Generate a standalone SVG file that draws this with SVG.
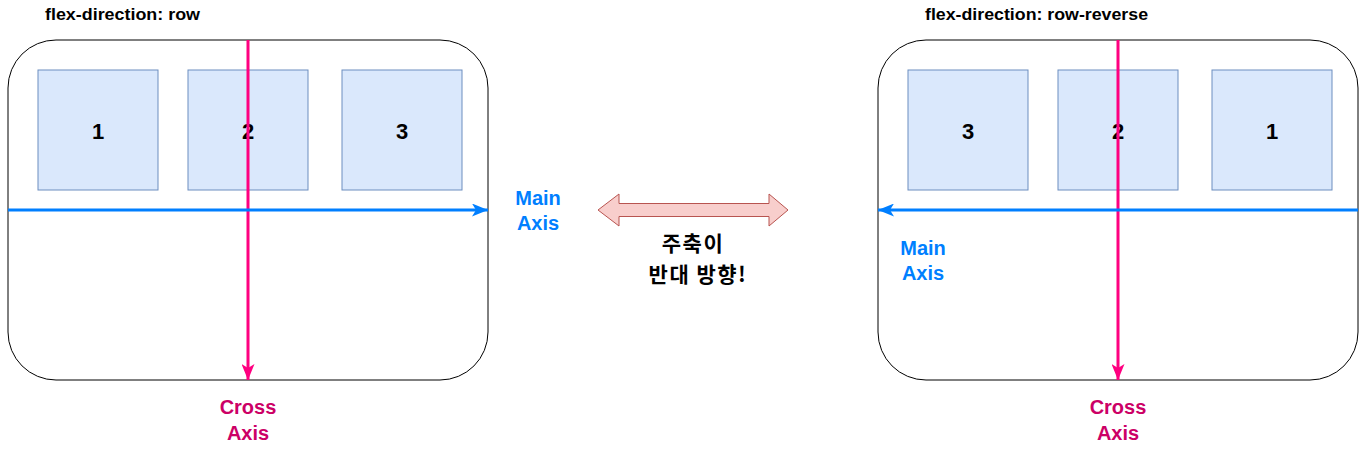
<svg xmlns="http://www.w3.org/2000/svg" width="1369" height="450" viewBox="0 0 1369 450">
<style>
text{font-family:"Liberation Sans",Arial,sans-serif;font-weight:bold;text-anchor:middle}
.cont{fill:#fff;stroke:#000;stroke-width:1}
.box{fill:#dae8fc;stroke:#6c8ebf;stroke-width:1}
.num{font-size:22px;fill:#000}
.title{font-size:16px;fill:#000;text-anchor:start}
.main{stroke:#007FFF;stroke-width:3;fill:none}
.cross{stroke:#FF0080;stroke-width:3;fill:none}
.mlab{font-size:20px;fill:#007FFF}
.clab{font-size:20px;fill:#CC0066}
.kor{font-size:21px;letter-spacing:1.5px;fill:#000;font-family:"Noto Sans CJK KR","Liberation Sans",sans-serif}
</style>
<defs>
<marker id="ab" viewBox="0 0 16 13" refX="16" refY="6.5" markerWidth="16" markerHeight="13" orient="auto" markerUnits="userSpaceOnUse">
<path d="M0,0 L16,6.5 L0,13 L4,6.5 Z" fill="#007FFF"/>
</marker>
<marker id="ap" viewBox="0 0 16 13" refX="16" refY="6.5" markerWidth="16" markerHeight="13" orient="auto" markerUnits="userSpaceOnUse">
<path d="M0,0 L16,6.5 L0,13 L4,6.5 Z" fill="#FF0080"/>
</marker>
</defs>
<g id="title-left"><text class="title" x="45" y="20" textLength="155" lengthAdjust="spacingAndGlyphs">flex-direction: row</text></g>
<g id="title-right"><text class="title" x="925" y="20" textLength="223" lengthAdjust="spacingAndGlyphs">flex-direction: row-reverse</text></g>
<g id="container-left"><rect class="cont" x="8" y="40" width="480" height="340" rx="48" ry="48"/></g>
<g id="container-right"><rect class="cont" x="878" y="40" width="480" height="340" rx="48" ry="48"/></g>
<g id="box-l1"><rect class="box" x="38" y="70" width="120" height="120"/><text class="num" x="98" y="139">1</text></g>
<g id="box-l2"><rect class="box" x="188" y="70" width="120" height="120"/><text class="num" x="248" y="139">2</text></g>
<g id="box-l3"><rect class="box" x="342" y="70" width="120" height="120"/><text class="num" x="402" y="139">3</text></g>
<g id="box-r3"><rect class="box" x="908" y="70" width="120" height="120"/><text class="num" x="968" y="139">3</text></g>
<g id="box-r2"><rect class="box" x="1058" y="70" width="120" height="120"/><text class="num" x="1118" y="139">2</text></g>
<g id="box-r1"><rect class="box" x="1212" y="70" width="120" height="120"/><text class="num" x="1272" y="139">1</text></g>
<g id="connectors">
<line class="cross" x1="248" y1="40" x2="248" y2="380" marker-end="url(#ap)"/>
<line class="main" x1="8" y1="210" x2="488" y2="210" marker-end="url(#ab)"/>
<line class="cross" x1="1118" y1="40" x2="1118" y2="380" marker-end="url(#ap)"/>
<line class="main" x1="1358" y1="210" x2="878" y2="210" marker-end="url(#ab)"/>
</g>
<g id="label-main-left"><text class="mlab" x="538" y="205">Main</text><text class="mlab" x="538" y="230">Axis</text></g>
<g id="label-main-right"><text class="mlab" x="923" y="255">Main</text><text class="mlab" x="923" y="280">Axis</text></g>
<g id="label-cross-left"><text class="clab" x="248" y="414">Cross</text><text class="clab" x="248" y="440">Axis</text></g>
<g id="label-cross-right"><text class="clab" x="1118" y="414">Cross</text><text class="clab" x="1118" y="440">Axis</text></g>
<g id="double-arrow"><path d="M598,210 L619,194 L619,203.5 L769,203.5 L769,194 L788,210 L769,226 L769,216.5 L619,216.5 L619,226 Z" fill="#f8cecc" stroke="#b85450" stroke-width="1"/></g>
<g id="korean-label"><text class="kor" x="693" y="251">주축이</text><text class="kor" x="698" y="282">반대 방향!</text></g>
</svg>
